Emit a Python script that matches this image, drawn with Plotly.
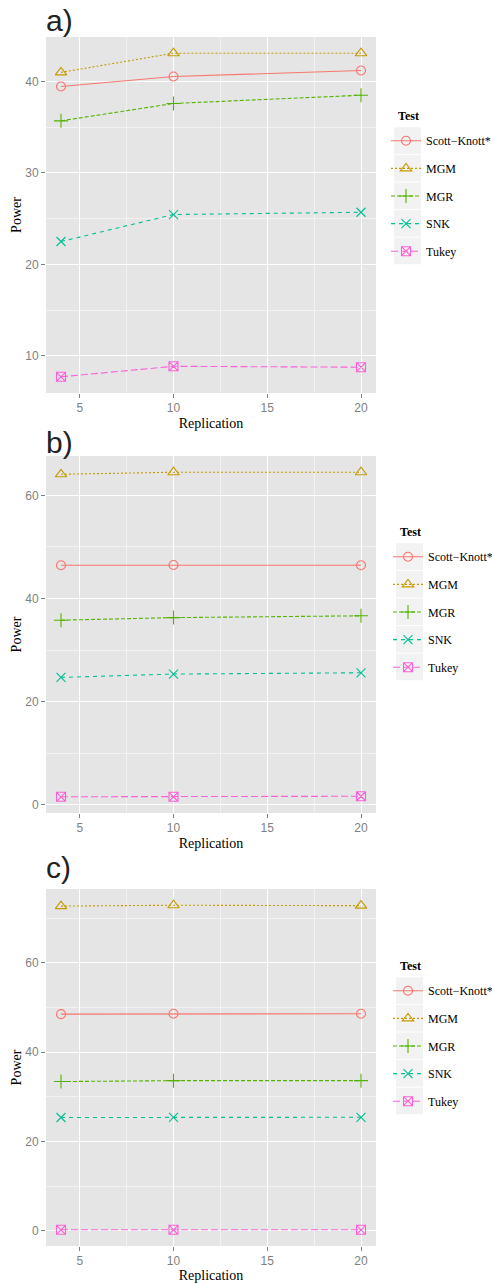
import plotly.graph_objects as go

# Replication levels shared by all three scenarios
replication = [4, 10, 20]

tests = ["Scott−Knott*", "MGM", "MGR", "SNK", "Tukey"]

# Power (%) per test, scenario a)
power_a_sk = [39.45, 40.55, 41.2]
power_a_mgm = [41.0, 43.1, 43.1]
power_a_mgr = [35.7, 37.6, 38.5]
power_a_snk = [22.5, 25.45, 25.7]
power_a_tukey = [7.7, 8.85, 8.75]

# Power (%) per test, scenario b)
power_b_sk = [46.45, 46.5, 46.45]
power_b_mgm = [64.1, 64.5, 64.5]
power_b_mgr = [35.8, 36.3, 36.65]
power_b_snk = [24.7, 25.35, 25.6]
power_b_tukey = [1.55, 1.55, 1.65]

# Power (%) per test, scenario c)
power_c_sk = [48.5, 48.6, 48.6]
power_c_mgm = [72.7, 72.9, 72.8]
power_c_mgr = [33.4, 33.6, 33.6]
power_c_snk = [25.35, 25.4, 25.4]
power_c_tukey = [0.2, 0.2, 0.2]

panel_labels = ["a)", "b)", "c)"]
legend_title = "Test"
x_ticks = [5, 10, 15, 20]
y_ticks_a = [10, 20, 30, 40]
y_ticks_bc = [0, 20, 40, 60]

panels = [
    [power_a_sk, power_a_mgm, power_a_mgr, power_a_snk, power_a_tukey],
    [power_b_sk, power_b_mgm, power_b_mgr, power_b_snk, power_b_tukey],
    [power_c_sk, power_c_mgm, power_c_mgr, power_c_snk, power_c_tukey],
]
panel_yticks = [y_ticks_a, y_ticks_bc, y_ticks_bc]

# ggplot-like hue colours, line types and shapes
colors = ["#F8766D", "#C49A00", "#53B400", "#00C094", "#FB61D7"]
dashes = ["solid", "2px,2px", "4px,2px", "4px,4px", "7px,3px"]
symbols = ["circle-open", "triangle-up-open", "cross-thin-open", "x-thin-open", "square-x-open"]
msizes = [9, 10, 10, 9, 9]

W, H = 492, 1283


def px_x(p):
    return p / W


def px_y(p):
    return 1 - p / H


# panel geometry in pixels: (left, right, top, bottom)
boxes = [(46, 376, 37, 393), (46, 376, 456, 813), (46, 376, 889, 1246)]
label_tops = [2, 424, 849]
legend_key_x = [394, 396, 396]
legend_title_y = [116, 532, 966]

serif = "Liberation Serif"
sans = "Liberation Sans"

fig = go.Figure()
layout = dict(
    width=W, height=H, margin=dict(l=0, r=0, t=0, b=0, autoexpand=False),
    paper_bgcolor="white", plot_bgcolor="#E5E5E5",
    font=dict(family=serif, size=12, color="black"),
    showlegend=True,
)
shapes = []
annotations = []


def expand(vals):
    lo, hi = min(vals), max(vals)
    d = (hi - lo) * 0.05
    return [lo - d, hi + d]


for i, series in enumerate(panels):
    n = "" if i == 0 else str(i + 1)
    left, right, top, bottom = boxes[i]
    legend_name = "legend" + n
    for j, name in enumerate(tests):
        fig.add_trace(go.Scatter(
            x=replication, y=series[j], name=name,
            mode="lines+markers",
            xaxis="x" + n, yaxis="y" + n,
            legend=legend_name, legendgroup=f"p{i}_{j}",
            line=dict(color=colors[j], width=1.1, dash=dashes[j]),
            marker=dict(symbol=symbols[j], size=msizes[j], color=colors[j],
                        line=dict(color=colors[j], width=1.1)),
        ))
    allvals = [v for s in series for v in s]
    layout["xaxis" + n] = dict(
        domain=[px_x(left), px_x(right)], anchor="y" + n,
        range=expand(replication), tickvals=x_ticks,
        showgrid=True, gridcolor="white", gridwidth=1.2, zeroline=False,
        minor=dict(showgrid=True, gridcolor="#F2F2F2", gridwidth=0.6, dtick=2.5, tick0=0),
        ticks="outside", ticklen=4, tickcolor="#7F7F7F", tickwidth=1,
        tickfont=dict(family=sans, size=12, color="#7F7F7F"),
        title=dict(text="Replication", font=dict(family=serif, size=14, color="black"), standoff=3),
        showline=False, automargin=False,
    )
    layout["yaxis" + n] = dict(
        domain=[px_y(bottom), px_y(top)], anchor="x" + n,
        range=expand(allvals), tickvals=panel_yticks[i],
        showgrid=True, gridcolor="white", gridwidth=1.2, zeroline=False,
        minor=dict(showgrid=True, gridcolor="#F2F2F2", gridwidth=0.6, dtick=5 if i == 0 else 10, tick0=0),
        ticks="outside", ticklen=4, tickcolor="#7F7F7F", tickwidth=1,
        tickfont=dict(family=sans, size=12, color="#7F7F7F"),
        title=dict(text="Power", font=dict(family=serif, size=14, color="black"), standoff=0),
        showline=False, automargin=False,
    )
    # legend for this panel, title drawn separately above the keys
    kx = legend_key_x[i]
    ty = legend_title_y[i]
    layout[legend_name] = dict(
        x=px_x(kx - 8), xanchor="left",
        y=px_y(ty + 10.3), yanchor="top",
        bgcolor="rgba(0,0,0,0)", borderwidth=0,
        traceorder="grouped", tracegroupgap=8.6,
        font=dict(family=serif, size=12, color="black"),
    )
    annotations.append(dict(
        text="<b>" + legend_title + "</b>", xref="paper", yref="paper",
        x=px_x(kx + 2), y=px_y(ty), xanchor="left", yanchor="middle",
        showarrow=False, font=dict(family=serif, size=12, color="black"),
    ))
    # grey key backgrounds
    for j in range(len(tests)):
        y0 = ty + 11.3 + j * 27.6
        shapes.append(dict(
            type="rect", xref="paper", yref="paper",
            x0=px_x(kx), x1=px_x(kx + 27), y0=px_y(y0), y1=px_y(y0 + 26.6),
            fillcolor="#F2F2F2", line=dict(width=0), layer="below",
        ))
    annotations.append(dict(
        text=panel_labels[i], xref="paper", yref="paper",
        x=px_x(left - 2), y=px_y(label_tops[i]), xanchor="left", yanchor="top",
        showarrow=False, font=dict(family=sans, size=30, color="#222222"),
    ))

layout["shapes"] = shapes
layout["annotations"] = annotations
fig.update_layout(**layout)
fig.write_html("out.html")
